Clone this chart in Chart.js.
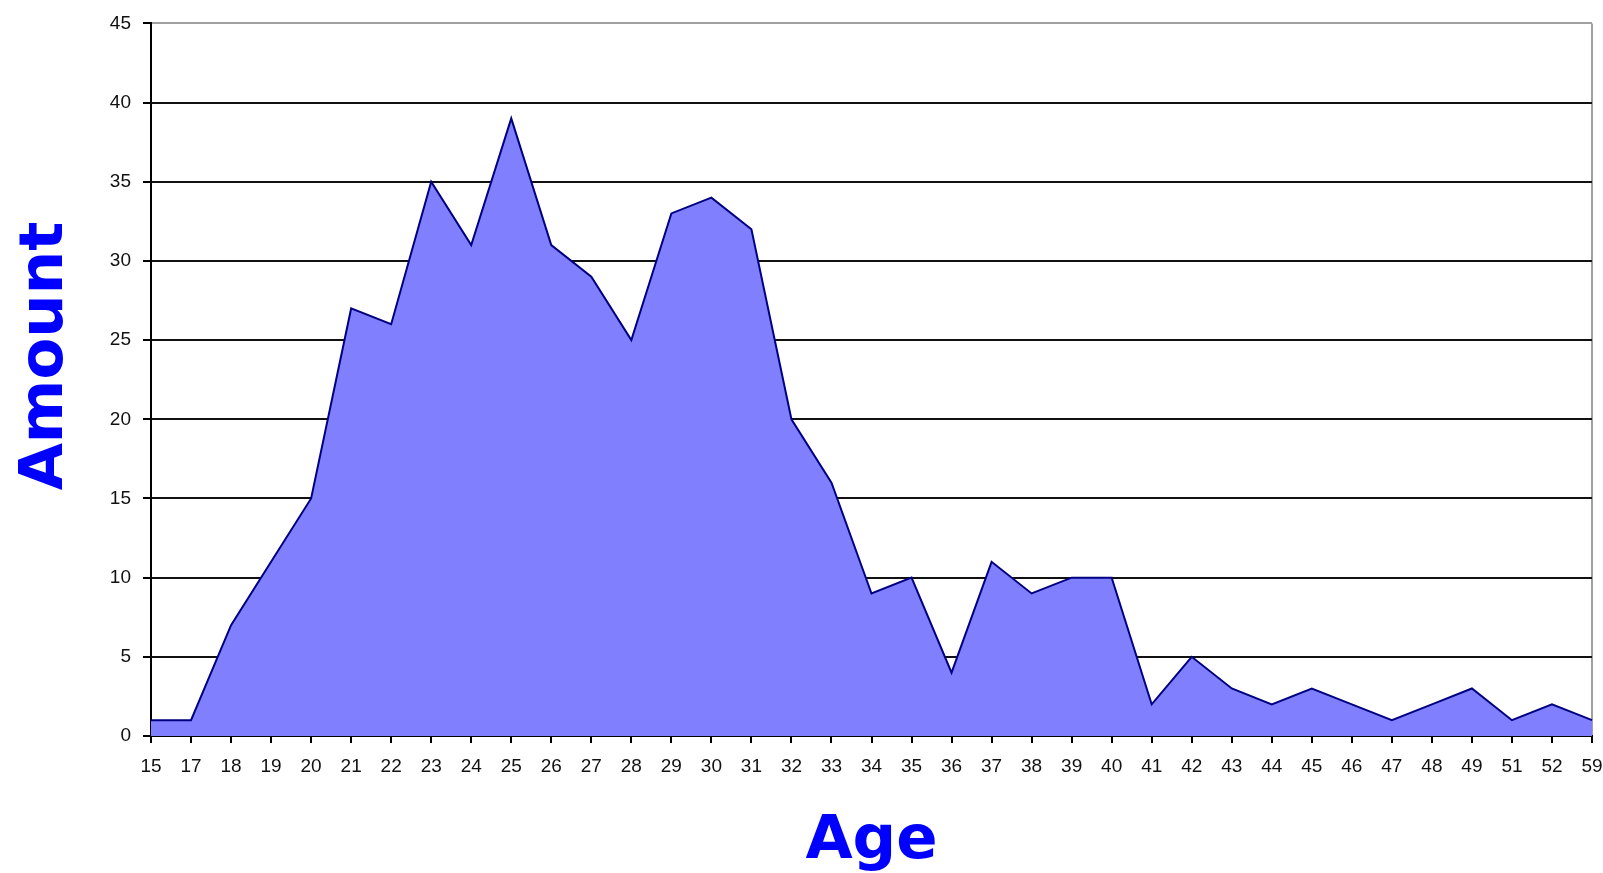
<!DOCTYPE html>
<html>
<head>
<meta charset="utf-8">
<script src="https://cdn.jsdelivr.net/npm/chart.js@4.4.0/dist/chart.umd.min.js"></script>
<style>
  html, body { margin: 0; padding: 0; background: #fff; }
  #wrap { position: relative; width: 1603px; height: 873px; }
</style>
</head>
<body>
<div id="wrap"><canvas id="ageGrafico"></canvas></div>
<script>
// Age distribution (area)
const ages = ['15', '17', '18', '19', '20', '21', '22', '23', '24', '25', '26', '27', '28',
  '29', '30', '31', '32', '33', '34', '35', '36', '37', '38', '39', '40', '41', '42',
  '43', '44', '45', '46', '47', '48', '49', '51', '52', '59'];
const amounts = [1, 1, 7, 11, 15, 27, 26, 35, 31, 39, 31, 29, 25,
  33, 34, 32, 20, 16, 9, 10, 4, 11, 9, 10, 10, 2, 5,
  3, 2, 3, 2, 1, 2, 3, 1, 2, 1];
const yMin = 0;
const yMax = 45;
const yStep = 5;

const tickFont = { family: 'Liberation Sans, Arial, sans-serif', size: 19 };
const titleFont = { family: 'DejaVu Sans, sans-serif', size: 61, weight: 'bold', lineHeight: 1 };

// y title sits a bit above the middle of the axis in the original, so draw it by hand
const yTitlePlugin = {
  id: 'yTitle',
  afterDraw(chart) {
    const ctx = chart.ctx;
    ctx.save();
    ctx.translate(46, 356);
    ctx.rotate(-Math.PI / 2);
    ctx.font = 'bold 61px "DejaVu Sans", sans-serif';
    ctx.fillStyle = '#0000ff';
    ctx.textAlign = 'center';
    ctx.textBaseline = 'middle';
    ctx.fillText('Amount', 0, 0);
    ctx.restore();
  }
};

let ageGrafico = document.getElementById('ageGrafico');

const config = {
  type: 'line',
  data: {
    labels: ages,
    datasets: [{
      label: 'Amount',
      data: amounts,
      fill: 'origin',
      backgroundColor: '#8080ff',
      borderColor: '#000080',
      borderWidth: 2,
      pointRadius: 0,
      tension: 0
    }]
  },
  options: {
    responsive: true,
    maintainAspectRatio: false,
    animation: false,
    layout: { padding: { top: 23, right: 0, left: 0, bottom: 0 } },
    plugins: {
      legend: { display: false },
      tooltip: { enabled: false }
    },
    scales: {
      x: {
        offset: false,
        afterFit: (scale) => {
          scale.height = 137;
          scale.paddingRight = 11;
          scale.paddingLeft = 0;
        },
        border: { display: true, color: '#000', width: 2 },
        grid: {
          color: (ctx) => ctx.index === ages.length - 1 ? '#a0a0a0' : 'rgba(0,0,0,0)',
          tickColor: '#000',
          tickLength: 7,
          lineWidth: 2
        },
        ticks: {
          autoSkip: false,
          maxRotation: 0,
          padding: 12,
          color: '#111',
          font: tickFont
        },
        title: {
          display: true,
          text: 'Age',
          color: '#0000ff',
          font: titleFont,
          padding: { top: 0, bottom: 0 }
        }
      },
      y: {
        min: yMin,
        max: yMax,
        afterFit: (scale) => { scale.width = 151; },
        border: { display: true, color: '#000', width: 2 },
        grid: {
          color: (ctx) => ctx.tick.value === yMax ? '#a0a0a0' : '#111',
          tickColor: '#000',
          tickLength: 8,
          lineWidth: 2
        },
        ticks: {
          stepSize: yStep,
          padding: 12,
          color: '#111',
          font: tickFont
        }
      }
    }
  },
  plugins: [yTitlePlugin]
};

let myGraph = new Chart(ageGrafico, config);
</script>
</body>
</html>
